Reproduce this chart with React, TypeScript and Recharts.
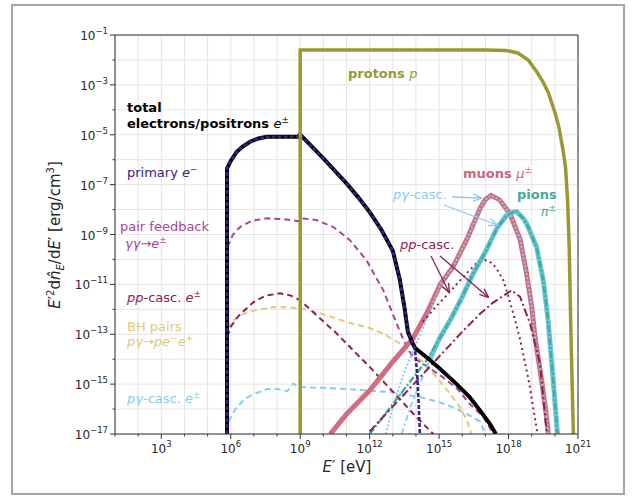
import React from 'react';
import { LineChart, Line, XAxis, YAxis, CartesianGrid, ReferenceLine } from 'recharts';

// points are [log10 E'/eV, log10 E'^2 dn/dE']
const protons = [[9, -17], [9, -1.6], [17, -1.6], [17.9, -1.62], [18.4, -1.72], [18.85, -2.0], [19.2, -2.45], [19.5, -2.9], [19.73, -3.34], [20.0, -4.1], [20.17, -4.67], [20.35, -5.6], [20.46, -6.3], [20.55, -7.6], [20.62, -9.5], [20.7, -13.2], [20.8, -17]];

const totalE = [[5.84, -17], [5.84, -6.35], [6.0, -6.05], [6.25, -5.69], [6.5, -5.48], [6.83, -5.28], [7.2, -5.15], [7.55, -5.08], [8.9, -5.08], [9.0, -4.99], [9.16, -5.15], [10.0, -5.95], [11.0, -6.95], [11.5, -7.5], [12.0, -8.1], [12.5, -8.8], [13.0, -9.65], [13.3, -10.8], [13.5, -11.9], [13.65, -12.9], [13.85, -13.35], [13.96, -13.55], [14.5, -13.95], [15.0, -14.35], [15.6, -14.86], [16.3, -15.5], [16.8, -16.1], [17.2, -16.6], [17.45, -17]];

const primaryE = [[5.84, -17], [5.84, -6.35], [6.0, -6.05], [6.25, -5.69], [6.5, -5.48], [6.83, -5.28], [7.2, -5.15], [7.55, -5.08], [8.9, -5.08], [9.0, -4.99], [9.16, -5.15], [10.0, -5.95], [11.0, -6.95], [11.5, -7.5], [12.0, -8.1], [12.5, -8.8], [13.0, -9.65], [13.3, -10.8], [13.5, -11.9], [13.65, -12.9], [13.85, -13.35], [13.96, -13.6], [14.05, -14.6], [14.12, -15.8], [14.17, -17]];

const pairFeedback = [[5.85, -9.5], [6.1, -9.0], [6.4, -8.7], [6.9, -8.45], [7.57, -8.35], [8.2, -8.38], [8.7, -8.43], [8.95, -8.47], [9.0, -8.37], [9.14, -8.36], [9.7, -8.42], [10.43, -8.7], [11.15, -9.23], [11.87, -10.04], [12.59, -11.24], [13.17, -12.58], [13.6, -13.52], [13.9, -13.95], [14.5, -14.3], [15.2, -14.75], [15.8, -15.2], [16.33, -15.8], [16.9, -16.3], [17.35, -17]];

const ppCascE = [[5.85, -13.1], [6.0, -12.7], [6.3, -12.3], [6.7, -11.95], [7.0, -11.7], [7.5, -11.45], [8.13, -11.36], [8.6, -11.45], [9.0, -11.64], [9.86, -12.37], [10.5, -12.9], [11.58, -13.92], [12.01, -14.32], [13.0, -15.3], [14.0, -16.3], [14.75, -17]];

const bhPairs = [[5.85, -12.77], [6.1, -12.45], [6.5, -12.2], [7.0, -12.05], [7.8, -11.92], [8.5, -11.92], [9.0, -11.96], [10.0, -12.2], [11.15, -12.55], [12.0, -12.75], [12.6, -12.98], [13.0, -13.2], [13.74, -13.62], [14.5, -14.3], [14.89, -14.72], [15.4, -15.3], [15.9, -15.93], [16.2, -16.45], [16.4, -17]];

const pgCascE = [[5.9, -16.5], [6.2, -16.0], [6.6, -15.6], [7.0, -15.4], [7.57, -15.2], [8.0, -15.2], [8.43, -15.28], [8.6, -15.1], [8.7, -14.98], [8.85, -15.06], [9.0, -15.12], [10.0, -15.15], [11.0, -15.2], [12.0, -15.26], [13.0, -15.33], [14.17, -15.52], [15.0, -15.72], [15.61, -15.93], [16.2, -16.2], [16.77, -16.5], [17.0, -17]];

const muons = [[10.3, -17], [11.0, -16.2], [12.0, -15.26], [13.0, -14.1], [13.87, -13.17], [14.5, -12.1], [15.05, -11.0], [15.6, -10.3], [16.2, -9.2], [16.77, -7.95], [17.0, -7.6], [17.25, -7.43], [17.6, -7.6], [18.06, -8.16], [18.5, -9.2], [18.78, -10.57], [19.0, -11.9], [19.14, -13.1], [19.43, -14.86], [19.6, -16.0], [19.72, -17]];

const pgMuons = [[12.7, -17], [12.95, -16.06], [13.5, -14.5], [14.1, -13.2], [14.6, -12.1], [15.05, -11.0], [15.6, -10.3], [16.2, -9.2], [16.77, -7.95], [17.0, -7.6], [17.25, -7.43], [17.6, -7.6], [18.06, -8.16], [18.5, -9.2], [18.78, -10.57], [19.0, -11.9], [19.14, -13.1], [19.43, -14.86], [19.6, -16.0], [19.72, -17]];

const ppMuons = [[14.3, -12.5], [14.8, -11.95], [15.32, -11.45], [16.04, -10.7], [16.62, -10.15], [17.0, -10.03], [17.3, -10.15], [17.5, -10.4], [17.78, -10.84], [18.21, -12.18], [18.5, -13.2], [18.9, -15.0], [19.25, -17]];

const pions = [[12.0, -17], [13.0, -15.8], [13.45, -15.26], [14.0, -14.6], [14.5, -14.0], [15.0, -13.2], [15.47, -12.45], [16.0, -11.5], [16.48, -10.55], [17.0, -9.7], [17.49, -8.76], [17.9, -8.25], [18.2, -8.1], [18.35, -8.08], [18.64, -8.36], [18.8, -8.6], [19.21, -9.5], [19.5, -10.84], [19.71, -12.45], [19.93, -14.86], [20.1, -16.86], [20.12, -17]];

const pgPionsLow = [[13.38, -17], [13.8, -15.8], [14.17, -15.0], [14.6, -14.0]];

const pgPions = [[14.6, -14.0], [15.0, -13.2], [15.47, -12.45], [16.0, -11.5], [16.48, -10.55], [17.0, -9.7], [17.49, -8.76], [17.9, -8.25], [18.2, -8.1], [18.35, -8.08], [18.64, -8.36], [18.8, -8.6], [19.21, -9.5], [19.5, -10.84], [19.71, -12.45], [19.93, -14.86], [20.1, -16.86], [20.12, -17]];

const ppPions = [[12.0, -16.9], [13.0, -15.9], [14.0, -14.9], [15.0, -13.9], [16.0, -12.9], [16.77, -12.18], [17.3, -11.75], [17.92, -11.37], [18.13, -11.24], [18.5, -11.5], [18.93, -12.58], [19.36, -14.19], [19.64, -16.86], [19.67, -17]];

const xTicks = [1e1, 1e2, 1e3, 1e4, 1e5, 1e6, 1e7, 1e8, 1e9, 1e10, 1e11, 1e12, 1e13, 1e14, 1e15, 1e16, 1e17, 1e18, 1e19, 1e20, 1e21];
const xLabelled = [3, 6, 9, 12, 15, 18, 21];
const yTicks = [1e-17, 1e-16, 1e-15, 1e-14, 1e-13, 1e-12, 1e-11, 1e-10, 1e-9, 1e-8, 1e-7, 1e-6, 1e-5, 1e-4, 1e-3, 1e-2, 1e-1];
const yLabelled = [-1, -3, -5, -7, -9, -11, -13, -15, -17];

const OLIVE = '#999933';
const INDIGO = '#332288';
const CYAN = '#88CCEE';
const TEAL = '#44AA99';
const SAND = '#DDCC77';
const ROSE = '#CC6677';
const WINE = '#882255';
const PURPLE = '#AA4499';
const FONT = 'DejaVu Sans';

const toPts = (arr: number[][]) => arr.map(([e, v]) => ({ x: Math.pow(10, e), y: Math.pow(10, v) }));

const fmtExp = (n: number) => (n < 0 ? '\u2212' + Math.abs(n) : String(n));

const XTick = (props: any) => {
  const { x, y, payload } = props;
  const exp = Math.round(Math.log10(payload.value));
  const major = xLabelled.includes(exp);
  return (
    <g>
      <line x1={x} x2={x} y1={y} y2={y + (major ? 5 : 2.5)} stroke="#333" strokeWidth={1} />
      {major && (
        <text x={x} y={y + 19} textAnchor="middle" fontSize={12} fill="#262626" fontFamily={FONT}>
          10<tspan dy={-6} fontSize={8.5}>{fmtExp(exp)}</tspan>
        </text>
      )}
    </g>
  );
};

const YTick = (props: any) => {
  const { x, y, payload } = props;
  const exp = Math.round(Math.log10(payload.value));
  const major = yLabelled.includes(exp);
  return (
    <g>
      <line x1={x} x2={x - (major ? 5 : 2.5)} y1={y} y2={y} stroke="#333" strokeWidth={1} />
      {major && (
        <text x={x - 7} y={y + 5} textAnchor="end" fontSize={12} fill="#262626" fontFamily={FONT}>
          10<tspan dy={-6} fontSize={8.5}>{fmtExp(exp)}</tspan>
        </text>
      )}
    </g>
  );
};

const Sup = ({ children }: { children: React.ReactNode }) => (
  <tspan dy={-5} fontSize={9}>{children}</tspan>
);

export default function App() {
  return (
    <div style={{ position: 'absolute', left: 0, top: 0, width: 633, height: 497, background: '#fff' }}>
      <LineChart width={633} height={497} margin={{ top: 35, right: 55, bottom: 33, left: 55 }}>
        <CartesianGrid stroke="#e4e4e4" strokeWidth={1} />
        <XAxis
          dataKey="x"
          type="number"
          scale="log"
          domain={[1e1, 1e21]}
          ticks={xTicks}
          allowDataOverflow
          height={30}
          tickSize={0}
          tickMargin={0}
          tickLine={false}
          stroke="#333"
          tick={<XTick />}
          interval={0}
        />
        <YAxis
          dataKey="y"
          type="number"
          scale="log"
          domain={[1e-17, 1e-1]}
          ticks={yTicks}
          allowDataOverflow
          width={60}
          tickSize={0}
          tickMargin={0}
          tickLine={false}
          stroke="#333"
          tick={<YTick />}
          interval={0}
        />
        <ReferenceLine y={1e-1} stroke="#333" strokeWidth={1} />
        <ReferenceLine x={1e21} stroke="#333" strokeWidth={1} />

        {/* electron/positron components */}
        <Line data={toPts(pgCascE)} dataKey="y" type="linear" stroke={CYAN} strokeWidth={2} strokeDasharray="6 4" dot={false} isAnimationActive={false} />
        <Line data={toPts(bhPairs)} dataKey="y" type="linear" stroke={SAND} strokeWidth={2} strokeDasharray="6 4" dot={false} isAnimationActive={false} />
        <Line data={toPts(ppCascE)} dataKey="y" type="linear" stroke={WINE} strokeWidth={2} strokeDasharray="6 4" dot={false} isAnimationActive={false} />
        <Line data={toPts(pairFeedback)} dataKey="y" type="linear" stroke={PURPLE} strokeWidth={2} strokeDasharray="6 4" dot={false} isAnimationActive={false} />

        {/* muons */}
        <Line data={toPts(muons)} dataKey="y" type="linear" stroke="#d06d80" strokeWidth={5} dot={false} isAnimationActive={false} />
        <Line data={toPts(pgMuons)} dataKey="y" type="linear" stroke={CYAN} strokeWidth={2} strokeDasharray="2 2" dot={false} isAnimationActive={false} />
        <Line data={toPts(ppMuons)} dataKey="y" type="linear" stroke={WINE} strokeWidth={2} strokeDasharray="2 3.5" dot={false} isAnimationActive={false} />

        {/* pions */}
        <Line data={toPts(pgPionsLow)} dataKey="y" type="linear" stroke={CYAN} strokeWidth={1.8} strokeDasharray="6 3 2 3" dot={false} isAnimationActive={false} />
        <Line data={toPts(pgPions)} dataKey="y" type="linear" stroke="#66c5d8" strokeWidth={5} dot={false} isAnimationActive={false} />
        <Line data={toPts(pions)} dataKey="y" type="linear" stroke={TEAL} strokeWidth={2.4} strokeDasharray="7 2 2 2" dot={false} isAnimationActive={false} />
        <Line data={toPts(ppPions)} dataKey="y" type="linear" stroke={WINE} strokeWidth={2} strokeDasharray="8 3 2 3" dot={false} isAnimationActive={false} />

        {/* total and primary electrons */}
        <Line data={toPts(totalE)} dataKey="y" type="linear" stroke="#000" strokeWidth={4} dot={false} isAnimationActive={false} />
        <Line data={toPts(primaryE)} dataKey="y" type="linear" stroke={INDIGO} strokeWidth={2.6} strokeDasharray="4 2" dot={false} isAnimationActive={false} />

        {/* protons */}
        <Line data={toPts(protons)} dataKey="y" type="linear" stroke={OLIVE} strokeWidth={3.5} dot={false} isAnimationActive={false} />
      </LineChart>

      <svg width={633} height={497} style={{ position: 'absolute', left: 0, top: 0, pointerEvents: 'none' }} fontFamily={FONT}>
        <defs>
          <marker id="arrCyan" viewBox="0 0 10 10" refX="9" refY="5" markerWidth="7" markerHeight="7" orient="auto">
            <path d="M0,1 L10,5 L0,9" fill="none" stroke={CYAN} strokeWidth={1.5} />
          </marker>
          <marker id="arrWine" viewBox="0 0 10 10" refX="9" refY="5" markerWidth="7" markerHeight="7" orient="auto">
            <path d="M0,1 L10,5 L0,9" fill="none" stroke={WINE} strokeWidth={1.5} />
          </marker>
        </defs>
        <rect x={12} y={5} width={612} height={489} fill="none" stroke="#a6a6a6" strokeWidth={2} />

        {/* axis labels */}
        <text x={347} y={472} textAnchor="middle" fontSize={15} fill="#262626">
          <tspan fontStyle="italic">E</tspan>′ [eV]
        </text>
        <text transform="translate(60,235) rotate(-90)" x={0} y={0} textAnchor="middle" fontSize={15} fill="#262626">
          <tspan fontStyle="italic">E</tspan>′<tspan dy={-6} fontSize={10}>2</tspan>
          <tspan dy={6}>d</tspan><tspan fontStyle="italic">n̂</tspan>
          <tspan dy={4} fontSize={10} fontStyle="italic">E</tspan>
          <tspan dy={-4}>/d</tspan><tspan fontStyle="italic">E</tspan>′ [erg/cm<tspan dy={-6} fontSize={10}>3</tspan><tspan dy={6}>]</tspan>
        </text>

        {/* left-side annotations */}
        <text x={127} y={112} fontSize={13} fontWeight="bold" fill="#000">total</text>
        <text x={127} y={128} fontSize={13} fill="#000">
          <tspan fontWeight="bold">electrons/positrons </tspan><tspan fontStyle="italic">e</tspan><Sup>±</Sup>
        </text>
        <text x={127} y={177} fontSize={13} fill={INDIGO}>
          primary <tspan fontStyle="italic">e</tspan><Sup>−</Sup>
        </text>
        <text x={120} y={231} fontSize={13} fill={PURPLE}>pair feedback</text>
        <text x={125} y={248} fontSize={13} fill={PURPLE}>
          <tspan fontStyle="italic">γγ</tspan>→<tspan fontStyle="italic">e</tspan><Sup>±</Sup>
        </text>
        <text x={127} y={302} fontSize={13} fill={WINE}>
          <tspan fontStyle="italic">pp</tspan>-casc. <tspan fontStyle="italic">e</tspan><Sup>±</Sup>
        </text>
        <text x={127} y={331} fontSize={13} fill={SAND}>BH pairs</text>
        <text x={127} y={346} fontSize={13} fill={SAND}>
          <tspan fontStyle="italic">pγ</tspan>→<tspan fontStyle="italic">pe</tspan><Sup>−</Sup><tspan dy={5} fontStyle="italic">e</tspan><Sup>+</Sup>
        </text>
        <text x={127} y={403} fontSize={13} fill={CYAN}>
          <tspan fontStyle="italic">pγ</tspan>-casc. <tspan fontStyle="italic">e</tspan><Sup>±</Sup>
        </text>

        {/* right-side annotations */}
        <text x={348} y={78} fontSize={13} fill={OLIVE}>
          <tspan fontWeight="bold">protons </tspan><tspan fontStyle="italic">p</tspan>
        </text>
        <text x={463} y={178} fontSize={13} fill={ROSE}>
          <tspan fontWeight="bold">muons </tspan><tspan fontStyle="italic">μ</tspan><Sup>±</Sup>
        </text>
        <text x={517} y={199} fontSize={13} fontWeight="bold" fill={TEAL}>pions</text>
        <text x={556} y={216} fontSize={13} textAnchor="end" fill={TEAL}>
          <tspan fontStyle="italic">π</tspan><Sup>±</Sup>
        </text>

        <text x={393} y={199} fontSize={13} fill={CYAN}>
          <tspan fontStyle="italic">pγ</tspan>-casc.
        </text>
        <line x1={452} y1={197} x2={481} y2={198} stroke={CYAN} strokeWidth={1.3} markerEnd="url(#arrCyan)" />
        <line x1={444} y1={205} x2={497} y2={225} stroke={CYAN} strokeWidth={1.3} markerEnd="url(#arrCyan)" />

        <text x={400} y={249} fontSize={13} fill={WINE}>
          <tspan fontStyle="italic">pp</tspan>-casc.
        </text>
        <line x1={431} y1={256} x2={449} y2={292} stroke={WINE} strokeWidth={1.3} markerEnd="url(#arrWine)" />
        <line x1={440} y1={256} x2={488} y2={297} stroke={WINE} strokeWidth={1.3} markerEnd="url(#arrWine)" />
      </svg>
    </div>
  );
}
